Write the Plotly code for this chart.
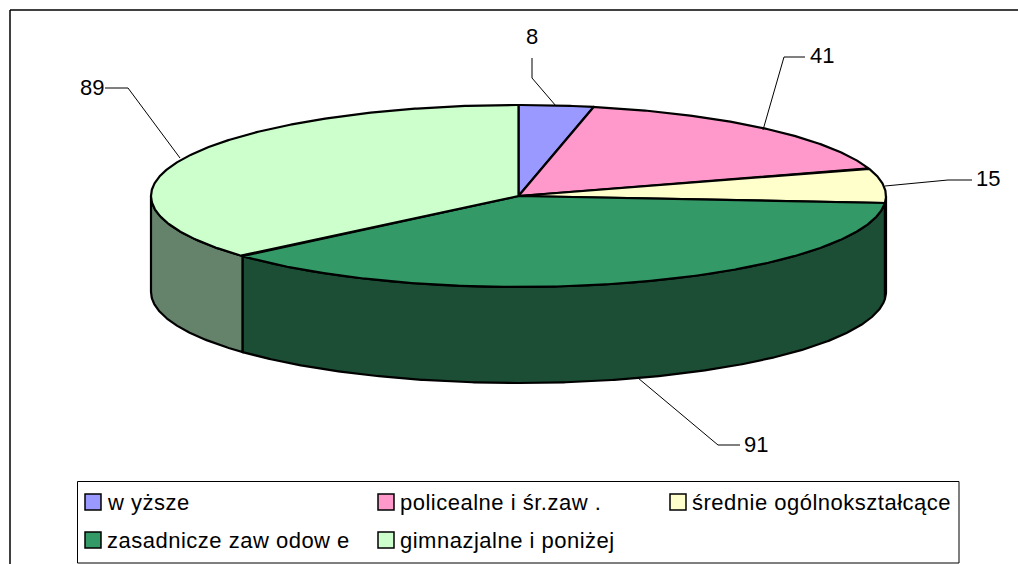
import numpy as np
import plotly.graph_objects as go

categories = ["w yższe", "policealne i śr.zaw .", "średnie ogólnokształcące",
              "zasadnicze zaw odow e", "gimnazjalne i poniżej"]
values = [8, 41, 15, 91, 89]
top_colors = ["#9999FF", "#FF99CC", "#FFFFCC", "#339966", "#CCFFCC"]
side_colors = ["#4D4D80", "#804D66", "#808066", "#1C4D35", "#65826A"]

# Projection of the disc, in page pixels
CX, CY, RX, RY, DEPTH = 518.5, 196.0, 367.5, 91.0, 96.0
FONT = "Liberation Sans, Arial, sans-serif"


def arc(a0, a1, dy=0.0):
    t = np.radians(np.linspace(a0, a1, max(2, int(abs(a1 - a0) * 3) + 1)))
    return CX + RX * np.sin(t), CY - RY * np.cos(t) + dy


total = sum(values)
edges = np.concatenate([[0.0], np.cumsum(values) / total * 360.0])

fig = go.Figure()

# Side walls: only the front half of the rim (90..270 degrees) is visible
for i in range(len(values)):
    a0, a1 = max(edges[i], 90.0), min(edges[i + 1], 270.0)
    if a1 <= a0:
        continue
    xt, yt = arc(a0, a1)
    xb, yb = arc(a1, a0, DEPTH)
    fig.add_trace(go.Scatter(
        x=np.concatenate([xt, xb, xt[:1]]), y=np.concatenate([yt, yb, yt[:1]]),
        mode="lines", fill="toself", fillcolor=side_colors[i],
        line=dict(color="#000000", width=2.2), hoverinfo="skip", showlegend=False))

# Top faces
for i in range(len(values)):
    xt, yt = arc(edges[i], edges[i + 1])
    fig.add_trace(go.Scatter(
        x=np.concatenate([[CX], xt, [CX]]), y=np.concatenate([[CY], yt, [CY]]),
        mode="lines", fill="toself", fillcolor=top_colors[i],
        line=dict(color="#000000", width=2.2), hoverinfo="skip", showlegend=False))

# Leader lines and value labels (pixel layout)
leaders = [
    ([532, 532, 556], [58, 78, 106]),
    ([805, 784, 763], [57, 57, 130]),
    ([972, 948, 885], [180, 180, 186]),
    ([740, 718, 638], [445, 445, 378]),
    ([105, 128, 180], [88, 88, 158]),
]
label_pos = [(532, 36), (822, 55), (988, 178), (756, 444), (92, 87)]
annotations = []
for v, (lx, ly), (px, py) in zip(values, leaders, label_pos):
    fig.add_trace(go.Scatter(x=lx, y=ly, mode="lines",
                             line=dict(color="#000000", width=1),
                             hoverinfo="skip", showlegend=False))
    annotations.append(dict(x=px, y=py, text=str(v), showarrow=False,
                            xanchor="center", yanchor="middle",
                            font=dict(family=FONT, size=22, color="#000000")))

# Chart frame and legend
shapes = [
    dict(type="line", x0=10, x1=1018, y0=10, y1=10, line=dict(color="#000000", width=1.5)),
    dict(type="line", x0=10, x1=10, y0=10, y1=564, line=dict(color="#000000", width=1.5)),
    dict(type="rect", x0=77.5, x1=959, y0=481.5, y1=563,
         line=dict(color="#000000", width=1), fillcolor="#FFFFFF"),
]
legend_cells = [(85, 502), (378, 502), (670, 502), (85, 540), (378, 540)]
for name, color, (sx, sy) in zip(categories, top_colors, legend_cells):
    shapes.append(dict(type="rect", x0=sx, x1=sx + 16, y0=sy - 8, y1=sy + 8,
                       line=dict(color="#000000", width=1.5), fillcolor=color))
    annotations.append(dict(x=sx + 20, y=sy, text=name, showarrow=False,
                            xanchor="left", yanchor="middle", align="left",
                            font=dict(family=FONT, size=22, color="#000000")))

fig.update_layout(
    width=1018, height=564, autosize=False,
    margin=dict(l=0, r=0, t=0, b=0),
    paper_bgcolor="#FFFFFF", plot_bgcolor="#FFFFFF",
    xaxis=dict(range=[0, 1018], visible=False, fixedrange=True),
    yaxis=dict(range=[564, 0], visible=False, fixedrange=True),
    shapes=shapes, annotations=annotations, showlegend=False,
)
fig.write_html("out.html", config={"displayModeBar": False},
               post_script="document.body.style.margin='0';document.body.style.overflow='hidden';"
                           "document.querySelectorAll('.annotation-text').forEach(function(t){"
                           "if(t.textContent.length>2){t.style.letterSpacing='0.5px';}});")
